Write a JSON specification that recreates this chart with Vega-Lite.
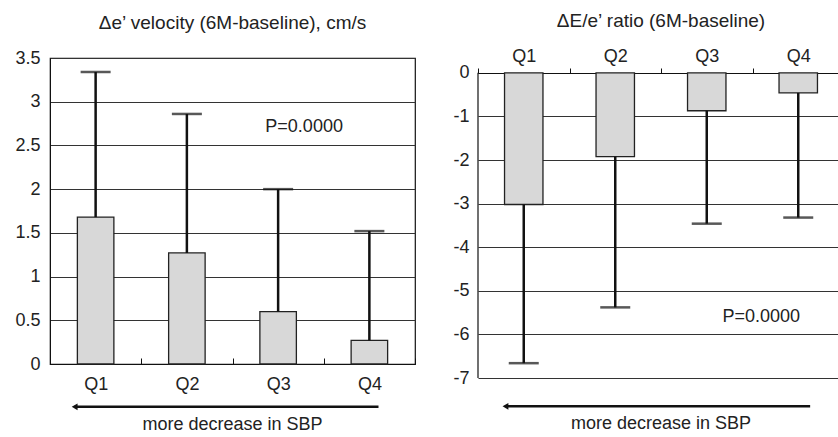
{
  "$schema": "https://vega.github.io/schema/vega-lite/v6.json",
  "padding": {"left": 14, "top": 12, "right": 0, "bottom": 0},
  "background": "white",
  "spacing": 35,
  "config": {
    "font": "Liberation Sans",
    "view": {"stroke": "#111", "strokeWidth": 1.2},
    "title": {"fontSize": 19, "fontWeight": "normal", "color": "#222", "offset": 16},
    "axis": {"labelFontSize": 18, "labelColor": "#222", "domainColor": "#111", "tickColor": "#111", "gridColor": "#333", "gridWidth": 1, "title": null}
  },
  "datasets": {
    "vel": [
      {"q": "Q1", "mean": 1.68, "hi": 3.34},
      {"q": "Q2", "mean": 1.27, "hi": 2.86},
      {"q": "Q3", "mean": 0.6, "hi": 2.0},
      {"q": "Q4", "mean": 0.27, "hi": 1.52}
    ],
    "rat": [
      {"q": "Q1", "mean": -3.02, "lo": -6.66},
      {"q": "Q2", "mean": -1.92, "lo": -5.38},
      {"q": "Q3", "mean": -0.87, "lo": -3.46},
      {"q": "Q4", "mean": -0.46, "lo": -3.32}
    ]
  },
  "hconcat": [
    {
      "width": 365,
      "height": 306,
      "title": "Δe’ velocity (6M-baseline), cm/s",
      "layer": [
        {
          "data": {"name": "vel"},
          "mark": {"type": "bar", "width": {"band": 0.4}, "fill": "#d8d8d8", "stroke": "#222", "strokeWidth": 1.3},
          "encoding": {
            "x": {"field": "q", "type": "nominal", "scale": {"domain": ["Q1", "Q2", "Q3", "Q4"], "paddingInner": 0, "paddingOuter": 0},
                  "axis": {"orient": "bottom", "labelAngle": 0, "tickBand": "extent", "tickSize": -6, "labelPadding": 17, "grid": false}},
            "y": {"field": "mean", "type": "quantitative", "scale": {"domain": [0, 3.5], "nice": false},
                  "axis": {"values": [0, 0.5, 1, 1.5, 2, 2.5, 3, 3.5], "grid": true, "tickSize": 0, "labelPadding": 10, "labelExpr": "datum.value + ''"}}
          }
        },
        {
          "data": {"name": "vel"},
          "mark": {"type": "rule", "strokeWidth": 2.5, "color": "#111"},
          "encoding": {
            "x": {"field": "q", "type": "nominal"},
            "y": {"field": "mean", "type": "quantitative"},
            "y2": {"field": "hi"}
          }
        },
        {
          "data": {"name": "vel"},
          "mark": {"type": "tick", "orient": "horizontal", "size": 30, "thickness": 2.5, "color": "#111"},
          "encoding": {
            "x": {"field": "q", "type": "nominal"},
            "y": {"field": "hi", "type": "quantitative"}
          }
        },
        {
          "data": {"values": [{"q": "Q3", "y": 2.71, "t": "P=0.0000"}]},
          "mark": {"type": "text", "fontSize": 18, "dx": 26, "baseline": "middle", "color": "#222"},
          "encoding": {
            "x": {"field": "q", "type": "nominal"},
            "y": {"field": "y", "type": "quantitative"},
            "text": {"field": "t"}
          }
        },
        {
          "data": {"values": [{"q": "Q1", "q2": "Q4", "y": -0.49}]},
          "mark": {"type": "rule", "strokeWidth": 2.5, "color": "#111"},
          "encoding": {
            "x": {"field": "q", "type": "nominal", "bandPosition": 0.27},
            "x2": {"field": "q2", "bandPosition": 0.6},
            "y": {"field": "y", "type": "quantitative"}
          }
        },
        {
          "data": {"values": [{"q": "Q1", "y": -0.49}]},
          "mark": {"type": "point", "shape": "triangle-left", "filled": true, "size": 45, "color": "#111", "opacity": 1},
          "encoding": {
            "x": {"field": "q", "type": "nominal", "bandPosition": 0.27},
            "y": {"field": "y", "type": "quantitative"}
          }
        },
        {
          "data": {"values": [{"q": "Q2", "y": -0.755, "t": "more decrease in SBP"}]},
          "mark": {"type": "text", "fontSize": 18, "baseline": "alphabetic", "color": "#222"},
          "encoding": {
            "x": {"field": "q", "type": "nominal", "bandPosition": 1},
            "y": {"field": "y", "type": "quantitative"},
            "text": {"field": "t"}
          }
        }
      ]
    },
    {
      "width": 366,
      "height": 320,
      "title": "ΔE/e’ ratio (6M-baseline)",
      "view": {"stroke": null},
      "layer": [
        {
          "data": {"name": "rat"},
          "mark": {"type": "bar", "width": {"band": 0.42}, "fill": "#d8d8d8", "stroke": "#222", "strokeWidth": 1.3},
          "encoding": {
            "x": {"field": "q", "type": "nominal", "scale": {"domain": ["Q1", "Q2", "Q3", "Q4"], "paddingInner": 0, "paddingOuter": 0},
                  "axis": {"orient": "top", "offset": -15, "labelAngle": 0, "tickBand": "extent", "tickSize": 5, "labelPadding": 3, "grid": false}},
            "y": {"field": "mean", "type": "quantitative", "scale": {"domain": [-7, 0.34], "nice": false, "zero": true},
                  "axis": {"values": [-7, -6, -5, -4, -3, -2, -1, 0], "grid": true, "domain": false, "tickSize": 0, "labelPadding": 9, "labelExpr": "datum.value + ''"}}
          }
        },
        {
          "data": {"values": [{"q": "Q1", "y": 0, "y2": -7}]},
          "mark": {"type": "rule", "strokeWidth": 1.2, "color": "#111"},
          "encoding": {
            "x": {"field": "q", "type": "nominal", "bandPosition": 0},
            "y": {"field": "y", "type": "quantitative"},
            "y2": {"field": "y2"}
          }
        },
        {
          "data": {"name": "rat"},
          "mark": {"type": "rule", "strokeWidth": 2.5, "color": "#111"},
          "encoding": {
            "x": {"field": "q", "type": "nominal"},
            "y": {"field": "mean", "type": "quantitative"},
            "y2": {"field": "lo"}
          }
        },
        {
          "data": {"name": "rat"},
          "mark": {"type": "tick", "orient": "horizontal", "size": 30, "thickness": 2.5, "color": "#111"},
          "encoding": {
            "x": {"field": "q", "type": "nominal"},
            "y": {"field": "lo", "type": "quantitative"}
          }
        },
        {
          "data": {"values": [{"q": "Q4", "y": -5.59, "t": "P=0.0000"}]},
          "mark": {"type": "text", "fontSize": 18, "dx": -37, "baseline": "middle", "color": "#222"},
          "encoding": {
            "x": {"field": "q", "type": "nominal"},
            "y": {"field": "y", "type": "quantitative"},
            "text": {"field": "t"}
          }
        },
        {
          "data": {"values": [{"q": "Q1", "q2": "Q4", "y": -7.65}]},
          "mark": {"type": "rule", "strokeWidth": 2.5, "color": "#111"},
          "encoding": {
            "x": {"field": "q", "type": "nominal", "bandPosition": 0.3},
            "x2": {"field": "q2", "bandPosition": 0.63},
            "y": {"field": "y", "type": "quantitative"}
          }
        },
        {
          "data": {"values": [{"q": "Q1", "y": -7.65}]},
          "mark": {"type": "point", "shape": "triangle-left", "filled": true, "size": 45, "color": "#111", "opacity": 1},
          "encoding": {
            "x": {"field": "q", "type": "nominal", "bandPosition": 0.3},
            "y": {"field": "y", "type": "quantitative"}
          }
        },
        {
          "data": {"values": [{"q": "Q2", "y": -8.18, "t": "more decrease in SBP"}]},
          "mark": {"type": "text", "fontSize": 18, "baseline": "alphabetic", "color": "#222"},
          "encoding": {
            "x": {"field": "q", "type": "nominal", "bandPosition": 1},
            "y": {"field": "y", "type": "quantitative"},
            "text": {"field": "t"}
          }
        }
      ]
    }
  ]
}
